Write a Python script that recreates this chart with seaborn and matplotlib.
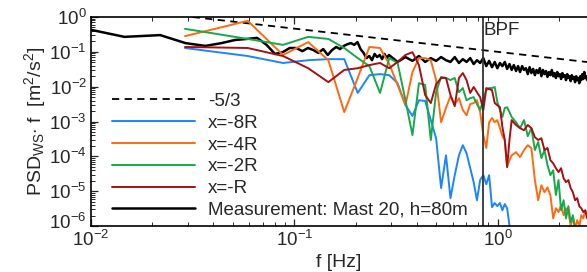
import numpy as np
import pandas as pd
import matplotlib
matplotlib.use("Agg")
import matplotlib.pyplot as plt
import matplotlib.transforms as mtransforms
import seaborn as sns

# ---------------- data ----------------
# simulation frequency bins [Hz]
f_sim = [0.029, 0.059, 0.088, 0.117, 0.147, 0.176, 0.205, 0.234, 0.264, 0.293,
         0.322, 0.352, 0.381, 0.410, 0.440, 0.469, 0.498, 0.527, 0.557, 0.586,
         0.615, 0.645, 0.674, 0.703, 0.733, 0.762, 0.791, 0.820, 0.850, 0.879,
         0.908, 0.938, 0.967, 0.996, 1.026, 1.055, 1.084, 1.113, 1.143, 1.172,
         1.231, 1.289, 1.348, 1.406, 1.465, 1.524, 1.582, 1.641, 1.699, 1.758,
         1.817, 1.875, 1.934, 1.992, 2.051, 2.110, 2.168, 2.227, 2.285, 2.344,
         2.403, 2.461, 2.520, 2.578, 2.637, 2.696, 2.754]

# log10(PSD*f) of the simulations
log_x8R = [-0.89, -1.12, -1.32, -1.24, -1.21, -1.21, -2.18, -1.67, -1.64, -1.67,
           -1.90, -2.53, -2.84, -2.39, -2.41, -2.96, -3.48, -4.91, -3.97, -5.20,
           -4.54, -3.97, -3.68, -3.91, -4.34, -4.74, -5.26, -4.68, -4.54, -4.80,
           -4.54, -5.46, -5.34, -5.43, -5.34, -5.55, -5.37, -5.49, -5.98, -6.41]

log_x4R = [-0.55, -0.11, -1.09, -0.72, -1.24, -2.73, -1.75, -0.86, -0.89, -1.35,
           -1.95, -2.53, -1.58, -1.18, -1.18, -1.24, -1.81, -3.02, -2.61, -2.27,
           -2.50, -2.33, -2.67, -2.82, -2.50, -2.47, -2.39, -2.73, -3.39, -3.76,
           -3.02, -2.90, -3.02, -2.96, -3.19, -3.42, -3.53, -4.28, -4.11, -3.97,
           -3.88, -4.02, -3.82, -3.68, -3.76, -4.68, -5.26, -4.83, -5.03, -4.89,
           -5.11, -5.78, -5.49, -5.60, -5.40, -5.69, -5.49, -5.60, -5.98, -5.78,
           -6.06, -5.83, -6.01, -5.69, -5.78, -5.55, -5.66]

log_x2R = [-0.34, -0.63, -0.80, -0.57, -0.63, -0.89, -1.18, -1.41, -2.18, -1.18,
           -1.32, -2.39, -3.39, -1.90, -1.95, -3.53, -2.16, -1.72, -1.75, -1.81,
           -1.75, -2.16, -2.04, -2.39, -2.33, -2.30, -2.50, -2.67, -2.39, -2.10,
           -2.04, -2.04, -2.01, -2.44, -2.67, -2.87, -2.61, -2.59, -2.73, -2.87,
           -3.02, -3.19, -2.96, -3.42, -3.19, -3.82, -3.59, -4.05, -3.82, -4.25,
           -4.54, -4.40, -5.11, -4.68, -5.55, -5.26, -5.78, -5.43, -5.89, -5.69,
           -6.06, -6.18, -6.40]

log_x1R = [-0.86, -0.89, -1.12, -1.47, -1.87, -1.52, -1.47, -1.38, -1.32, -1.47,
           -1.29, -1.09, -1.01, -1.38, -2.24, -2.47, -1.93, -1.75, -1.75, -2.24,
           -2.56, -1.75, -1.61, -1.81, -2.18, -2.01, -2.16, -2.30, -2.67, -2.04,
           -2.07, -2.10, -2.47, -2.53, -2.59, -3.16, -3.53, -4.31, -3.53, -2.96,
           -3.10, -3.19, -3.25, -3.10, -3.19, -3.45, -3.53, -3.48, -3.82, -3.76,
           -4.11, -4.20, -4.34, -4.45, -4.34, -4.63, -4.74, -4.68, -4.91, -5.03,
           -5.26, -5.20, -5.43, -5.49, -5.60, -5.55, -5.78]

# measurement (Mast 20, h=80m)
f_meas = [0.0073, 0.0146, 0.0219, 0.0292, 0.0365, 0.0438, 0.0511, 0.0584, 0.0657, 0.0730,
          0.0803, 0.0876, 0.0949, 0.1022, 0.1095, 0.1168, 0.1241, 0.1314, 0.1387, 0.1460,
          0.1533, 0.1606, 0.1679, 0.1752, 0.1825, 0.1898, 0.1971, 0.2044, 0.2117, 0.2190,
          0.2263, 0.2336, 0.2409, 0.2482, 0.2555, 0.2628, 0.2701, 0.2774, 0.2847, 0.2920,
          0.322, 0.352, 0.381, 0.410, 0.440, 0.469, 0.498, 0.527, 0.557, 0.586,
          0.615, 0.645, 0.674, 0.703, 0.733, 0.762, 0.791, 0.820, 0.850, 0.879,
          0.908, 0.938, 0.967, 0.996, 1.026, 1.055, 1.084, 1.113, 1.143, 1.172,
          1.201, 1.231, 1.260, 1.289, 1.319, 1.348, 1.377, 1.406, 1.436, 1.465,
          1.494, 1.524, 1.553, 1.582, 1.612, 1.641, 1.670, 1.699, 1.729, 1.758,
          1.787, 1.817, 1.846, 1.875, 1.905, 1.934, 1.963, 1.992, 2.022, 2.051,
          2.080, 2.110, 2.139, 2.168, 2.198, 2.227, 2.256, 2.285, 2.315, 2.344,
          2.373, 2.403, 2.432, 2.461, 2.491, 2.520, 2.549, 2.578, 2.608, 2.637,
          2.666, 2.696, 2.725, 2.754]
log_meas = [-0.20, -0.57, -0.52, -0.75, -0.83, -0.75, -0.66, -0.63, -0.60, -0.80,
            -1.06, -1.01, -0.89, -0.89, -0.98, -0.89, -0.95, -1.03, -0.92, -1.09,
            -0.95, -0.86, -0.92, -0.83, -0.78, -0.75, -0.80, -0.72, -0.92, -1.03,
            -1.18, -1.12, -1.24, -1.06, -1.15, -1.09, -1.21, -1.06, -1.18, -1.09,
            -1.29, -1.15, -1.26, -1.12, -1.29, -1.18, -1.26, -1.15, -1.24, -1.29,
            -1.15, -1.32, -1.21, -1.29, -1.18, -1.35, -1.24, -1.32, -1.18, -1.41,
            -1.26, -1.44, -1.29, -1.47, -1.32, -1.41, -1.29, -1.49, -1.35, -1.52,
            -1.38, -1.55, -1.41, -1.58, -1.41, -1.52, -1.47, -1.64, -1.44, -1.61,
            -1.49, -1.67, -1.52, -1.61, -1.47, -1.70, -1.52, -1.64, -1.55, -1.72,
            -1.58, -1.67, -1.52, -1.70, -1.61, -1.75, -1.58, -1.70, -1.64, -1.78,
            -1.61, -1.72, -1.67, -1.81, -1.64, -1.75, -1.70, -1.84, -1.67, -1.78,
            -1.72, -1.87, -1.70, -1.81, -1.75, -1.90, -1.70, -1.81, -1.64, -1.78,
            -1.58, -1.75, -1.70, -1.81]

# -5/3 reference slope (end points)
slope_f = [0.0316, 2.75]
slope_psd = [1.0, 0.051]

bpf = 0.843

y_ticks = [1e-6, 1e-5, 1e-4, 1e-3, 1e-2, 1e-1, 1e0]
x_ticks = [1e-2, 1e-1, 1e0]

labels = ["-5/3", "x=-8R", "x=-4R", "x=-2R", "x=-R", "Measurement: Mast 20, h=80m"]
colors = {"x=-8R": "#1a85ff", "x=-4R": "#ff6a10", "x=-2R": "#18a84a",
          "x=-R": "#a80f12", "Measurement: Mast 20, h=80m": "#000000"}

# ---------------- plot ----------------
sns.set_theme(style="ticks")
plt.rcParams["font.family"] = ["Liberation Sans", "DejaVu Sans"]
plt.rcParams["mathtext.fontset"] = "custom"
plt.rcParams["mathtext.rm"] = "Liberation Sans"
plt.rcParams["mathtext.it"] = "Liberation Sans:italic"
plt.rcParams["mathtext.bf"] = "Liberation Sans:bold"

fig = plt.figure(figsize=(5.87, 2.72), dpi=100)
ax = fig.add_axes([0.155, 0.169, 0.845, 0.7685])

def frame(f, logv, name):
    n = len(logv)
    return pd.DataFrame({"f": np.asarray(f[:n]), "psd": 10.0 ** np.asarray(logv), "series": name})

handles = {}
sns.lineplot(x=slope_f, y=slope_psd, ax=ax, color="black", lw=1.3,
             linestyle=(0, (4, 3)), sort=False, estimator=None)
handles["-5/3"] = ax.lines[-1]

dm = frame(f_meas, log_meas, labels[5])
sns.lineplot(data=dm, x="f", y="psd", ax=ax, color=colors[labels[5]], lw=1.8,
             sort=False, estimator=None)
handles[labels[5]] = ax.lines[-1]

for name, lv in [("x=-8R", log_x8R), ("x=-4R", log_x4R), ("x=-2R", log_x2R), ("x=-R", log_x1R)]:
    d = frame(f_sim, lv, name)
    sns.lineplot(data=d, x="f", y="psd", ax=ax, color=colors[name], lw=1.4,
                 sort=False, estimator=None)
    handles[name] = ax.lines[-1]

ax.axvline(bpf, color="#333333", lw=1.3)
ax.text(bpf * 1.015, 0.40, "BPF", fontsize=13.5, va="center", ha="left")

ax.set_xscale("log")
ax.set_yscale("log")
ax.set_xlim(0.01, 2.75)
ax.set_ylim(1e-6, 1.0)
ax.set_yticks(y_ticks)
ax.set_xticks(x_ticks)
ax.yaxis.set_minor_locator(matplotlib.ticker.LogLocator(base=10, subs=np.arange(2, 10), numticks=20))
ax.xaxis.set_minor_locator(matplotlib.ticker.LogLocator(base=10, subs=np.arange(2, 10), numticks=20))
ax.set_xlim(0.01, 2.75)
ax.set_ylim(1e-6, 1.0)

ax.set_xlabel("f [Hz]", fontsize=14, labelpad=3)
ax.set_ylabel(r"PSD$_{\mathrm{WS}}$$\cdot$ f  [m$^2$/s$^2$]", fontsize=14, labelpad=1)

ax.tick_params(which="both", direction="in", top=True, right=False, labelsize=13.5)
ax.tick_params(which="major", length=5, width=0.9)
ax.tick_params(axis="x", which="major", pad=3)
ax.tick_params(axis="y", which="major", pad=3)
ax.tick_params(which="minor", length=3, width=0.7)
for s in ["top", "left", "bottom"]:
    ax.spines[s].set_linewidth(1.2)
    ax.spines[s].set_color("black")
ax.spines["right"].set_visible(False)

# lift the lowest y label a little, as in the reference
lowest = ax.yaxis.get_major_ticks()[0].label1
lowest.set_transform(lowest.get_transform() +
                     mtransforms.ScaledTranslation(0, 5 / 100, fig.dpi_scale_trans))

leg = ax.legend([handles[l] for l in labels], labels, loc="lower left",
                bbox_to_anchor=(0.02, -0.02), frameon=False, fontsize=13.5,
                handlelength=4.4, handletextpad=0.7, labelspacing=0.25,
                borderaxespad=0.2)

fig.savefig("out.png", dpi=100)
